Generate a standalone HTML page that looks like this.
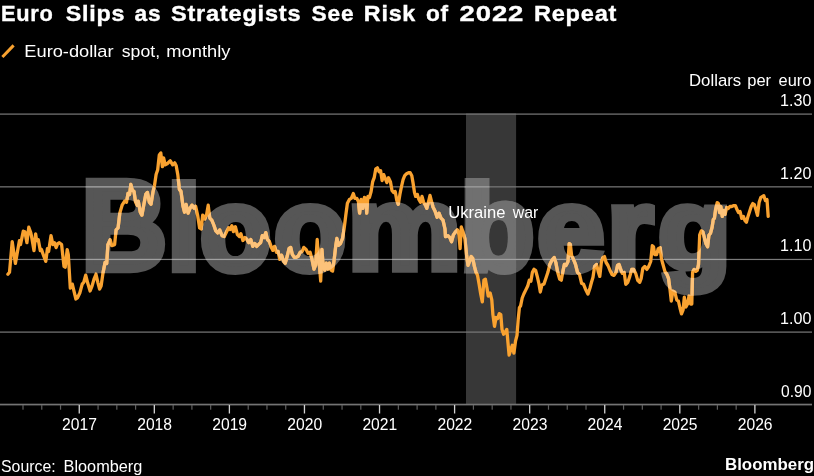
<!DOCTYPE html>
<html><head><meta charset="utf-8">
<style>
html,body{margin:0;padding:0;background:#000;}
body{width:814px;height:476px;overflow:hidden;}
svg{display:block;font-family:"Liberation Sans",sans-serif;will-change:transform;}
</style></head><body>
<svg width="814" height="476" viewBox="0 0 814 476">
<defs>
<clipPath id="bandclip"><rect x="466" y="113.4" width="50.1" height="291"/></clipPath>
<mask id="wmmask" maskUnits="userSpaceOnUse" x="0" y="0" width="814" height="476"><g font-size="120" font-weight="bold" stroke-width="8" stroke-linejoin="miter" fill="#fff" stroke="#fff">
<text transform="translate(81.78,268.70) scale(0.9793,1.0505)">B</text>
<text transform="translate(167.46,268.92) scale(0.9840,0.9958)">l</text>
<text transform="translate(200.30,270.31) scale(0.9644,0.9770)">o</text>
<text transform="translate(274.20,270.31) scale(0.9781,0.9770)">o</text>
<text transform="translate(347.82,269.03) scale(1.0604,0.9671)">m</text>
<text transform="translate(460.37,270.15) scale(1.0086,1.0093)">b</text>
<text transform="translate(537.40,270.31) scale(1.0000,0.9770)">e</text>
<text transform="translate(607.38,269.04) scale(0.9717,0.9644)">r</text>
<text transform="translate(658.20,267.58) scale(0.9886,0.9374)">g</text>
</g></mask>
</defs>
<rect x="466" y="113.4" width="50.1" height="291" fill="#373737"/>
<g font-size="120" font-weight="bold" stroke-width="8" stroke-linejoin="miter" fill="#565656" stroke="#565656">
<text transform="translate(81.78,268.70) scale(0.9793,1.0505)">B</text>
<text transform="translate(167.46,268.92) scale(0.9840,0.9958)">l</text>
<text transform="translate(200.30,270.31) scale(0.9644,0.9770)">o</text>
<text transform="translate(274.20,270.31) scale(0.9781,0.9770)">o</text>
<text transform="translate(347.82,269.03) scale(1.0604,0.9671)">m</text>
<text transform="translate(460.37,270.15) scale(1.0086,1.0093)">b</text>
<text transform="translate(537.40,270.31) scale(1.0000,0.9770)">e</text>
<text transform="translate(607.38,269.04) scale(0.9717,0.9644)">r</text>
<text transform="translate(658.20,267.58) scale(0.9886,0.9374)">g</text>
</g>
<g font-size="120" font-weight="bold" stroke-width="8" stroke-linejoin="miter" fill="#707070" stroke="#707070" clip-path="url(#bandclip)">
<text transform="translate(81.78,268.70) scale(0.9793,1.0505)">B</text>
<text transform="translate(167.46,268.92) scale(0.9840,0.9958)">l</text>
<text transform="translate(200.30,270.31) scale(0.9644,0.9770)">o</text>
<text transform="translate(274.20,270.31) scale(0.9781,0.9770)">o</text>
<text transform="translate(347.82,269.03) scale(1.0604,0.9671)">m</text>
<text transform="translate(460.37,270.15) scale(1.0086,1.0093)">b</text>
<text transform="translate(537.40,270.31) scale(1.0000,0.9770)">e</text>
<text transform="translate(607.38,269.04) scale(0.9717,0.9644)">r</text>
<text transform="translate(658.20,267.58) scale(0.9886,0.9374)">g</text>
</g>
<rect x="0" y="113.50" width="812" height="1.2" fill="#7a7a7a"/>
<rect x="0" y="186.25" width="812" height="1.2" fill="#7a7a7a"/>
<rect x="0" y="258.85" width="812" height="1.2" fill="#7a7a7a"/>
<rect x="0" y="331.50" width="812" height="1.2" fill="#7a7a7a"/>
<g fill="#747474">
<rect x="0" y="403.7" width="812" height="1.7"/>
<rect x="22.40" y="405" width="1.2" height="4.7" fill="#5e5e5e"/>
<rect x="41.16" y="405" width="1.2" height="4.7" fill="#5e5e5e"/>
<rect x="59.93" y="405" width="1.2" height="4.7" fill="#5e5e5e"/>
<rect x="78.60" y="405" width="1.3" height="8.5" fill="#d4d4d4"/>
<rect x="97.47" y="405" width="1.2" height="4.7" fill="#5e5e5e"/>
<rect x="116.23" y="405" width="1.2" height="4.7" fill="#5e5e5e"/>
<rect x="135.00" y="405" width="1.2" height="4.7" fill="#5e5e5e"/>
<rect x="153.67" y="405" width="1.3" height="8.5" fill="#d4d4d4"/>
<rect x="172.54" y="405" width="1.2" height="4.7" fill="#5e5e5e"/>
<rect x="191.30" y="405" width="1.2" height="4.7" fill="#5e5e5e"/>
<rect x="210.07" y="405" width="1.2" height="4.7" fill="#5e5e5e"/>
<rect x="228.74" y="405" width="1.3" height="8.5" fill="#d4d4d4"/>
<rect x="247.61" y="405" width="1.2" height="4.7" fill="#5e5e5e"/>
<rect x="266.37" y="405" width="1.2" height="4.7" fill="#5e5e5e"/>
<rect x="285.14" y="405" width="1.2" height="4.7" fill="#5e5e5e"/>
<rect x="303.81" y="405" width="1.3" height="8.5" fill="#d4d4d4"/>
<rect x="322.68" y="405" width="1.2" height="4.7" fill="#5e5e5e"/>
<rect x="341.44" y="405" width="1.2" height="4.7" fill="#5e5e5e"/>
<rect x="360.21" y="405" width="1.2" height="4.7" fill="#5e5e5e"/>
<rect x="378.88" y="405" width="1.3" height="8.5" fill="#d4d4d4"/>
<rect x="397.75" y="405" width="1.2" height="4.7" fill="#5e5e5e"/>
<rect x="416.51" y="405" width="1.2" height="4.7" fill="#5e5e5e"/>
<rect x="435.28" y="405" width="1.2" height="4.7" fill="#5e5e5e"/>
<rect x="453.95" y="405" width="1.3" height="8.5" fill="#d4d4d4"/>
<rect x="472.82" y="405" width="1.2" height="4.7" fill="#5e5e5e"/>
<rect x="491.58" y="405" width="1.2" height="4.7" fill="#5e5e5e"/>
<rect x="510.35" y="405" width="1.2" height="4.7" fill="#5e5e5e"/>
<rect x="529.02" y="405" width="1.3" height="8.5" fill="#d4d4d4"/>
<rect x="547.89" y="405" width="1.2" height="4.7" fill="#5e5e5e"/>
<rect x="566.65" y="405" width="1.2" height="4.7" fill="#5e5e5e"/>
<rect x="585.42" y="405" width="1.2" height="4.7" fill="#5e5e5e"/>
<rect x="604.09" y="405" width="1.3" height="8.5" fill="#d4d4d4"/>
<rect x="622.96" y="405" width="1.2" height="4.7" fill="#5e5e5e"/>
<rect x="641.72" y="405" width="1.2" height="4.7" fill="#5e5e5e"/>
<rect x="660.49" y="405" width="1.2" height="4.7" fill="#5e5e5e"/>
<rect x="679.16" y="405" width="1.3" height="8.5" fill="#d4d4d4"/>
<rect x="698.03" y="405" width="1.2" height="4.7" fill="#5e5e5e"/>
<rect x="716.80" y="405" width="1.2" height="4.7" fill="#5e5e5e"/>
<rect x="735.56" y="405" width="1.2" height="4.7" fill="#5e5e5e"/>
<rect x="754.23" y="405" width="1.3" height="8.5" fill="#d4d4d4"/>
</g>
<polyline fill="none" stroke="#f9a230" stroke-width="3.3" stroke-linejoin="round" stroke-linecap="round" points="7.9,274.3 9.5,272.3 12.2,241.7 15.4,263.4 19.4,240.7 20.5,244.6 23.3,231.2 24.9,231.8 26.9,242.7 28.8,227.2 30.8,232.8 31.6,236.7 34.0,250.6 35.6,233.8 36.7,240.7 38.3,239.7 40.3,250.6 41.5,249.6 43.9,256.5 45.8,261.4 47.4,248.6 48.6,251.5 51.0,235.7 52.9,244.6 54.5,242.7 56.1,247.6 57.7,243.6 59.3,242.7 61.6,244.6 64.0,266.4 65.2,267.3 67.2,249.6 68.3,254.5 70.3,288.1 72.3,284.1 73.5,289.1 75.9,299.0 77.4,298.0 79.8,293.0 82.2,284.1 83.8,282.2 85.7,275.2 87.7,283.1 90.1,291.0 92.0,286.1 94.0,279.2 96.0,274.3 98.0,283.1 99.6,289.1 101.1,286.1 103.1,272.3 105.1,262.4 106.7,263.4 107.9,244.6 110.2,239.7 111.8,245.6 114.6,244.6 116.1,229.8 118.1,227.8 119.8,213.1 122.1,205.2 124.5,201.3 126.5,202.3 128.0,193.4 129.6,194.4 130.8,184.5 132.4,190.4 134.0,191.4 135.6,202.3 137.1,205.2 138.3,201.3 140.3,212.2 141.9,215.1 143.9,204.3 145.8,194.4 147.4,192.4 149.4,202.3 151.0,204.3 152.9,192.4 154.5,185.5 156.1,174.6 157.7,169.7 159.3,154.9 160.8,152.9 162.4,166.7 163.6,157.8 165.2,164.8 167.2,163.8 170.3,160.8 172.7,164.8 174.7,162.8 176.2,165.7 177.8,174.6 179.4,189.4 181.0,191.4 183.0,206.2 184.5,212.2 186.1,204.3 188.1,213.1 190.1,208.2 192.0,205.2 194.0,208.2 195.6,206.2 197.6,215.1 199.6,228.0 201.1,229.0 202.7,215.1 204.7,219.1 206.7,214.1 208.2,205.2 209.8,218.1 211.8,220.1 213.8,225.0 215.8,230.9 217.7,232.9 219.7,229.9 221.7,234.9 222.0,235.6 224.3,236.5 226.7,231.6 228.7,227.7 230.3,229.6 231.9,225.7 233.4,231.6 235.4,226.7 237.4,234.6 239.4,236.5 240.9,233.6 242.9,240.5 244.9,237.5 246.9,239.5 248.8,242.5 250.8,239.5 252.8,246.4 254.8,243.5 256.7,246.4 258.7,244.4 260.7,242.5 262.3,235.6 264.2,237.5 265.8,232.6 267.4,239.5 269.4,241.5 271.4,247.4 272.9,250.4 274.5,246.4 276.5,252.3 278.1,251.4 279.7,259.3 281.6,255.3 283.6,261.2 285.2,263.2 287.2,256.3 289.1,248.4 290.7,247.4 292.3,254.3 294.3,257.3 296.2,257.3 298.2,256.3 300.2,252.3 302.2,251.4 303.8,247.4 306.1,249.4 308.1,253.3 310.1,252.3 312.0,259.3 314.0,269.1 315.6,265.2 317.2,239.5 318.4,257.3 319.6,267.2 320.7,281.0 321.9,249.4 323.1,265.2 324.7,270.1 326.3,263.2 327.9,269.1 329.4,263.2 331.0,270.1 332.6,271.1 334.2,259.3 335.8,245.4 336.9,238.5 338.5,245.4 340.5,243.5 342.5,238.5 344.0,229.6 345.8,215.2 347.4,203.3 349.4,199.4 351.3,198.4 353.3,193.5 354.9,198.4 356.9,198.4 358.4,201.4 359.6,213.2 361.2,199.4 362.8,208.3 364.4,197.4 366.0,199.4 366.7,213.2 367.9,196.4 369.5,197.4 371.1,191.5 372.7,181.6 374.2,177.7 375.8,168.8 377.4,167.8 379.0,171.7 380.6,170.7 382.1,180.6 383.7,174.7 385.3,178.6 386.9,182.6 388.5,177.7 390.4,181.6 392.0,190.5 393.6,192.5 395.2,191.5 396.8,200.4 398.3,204.3 399.9,194.4 401.5,186.5 403.1,179.6 404.7,175.7 406.6,173.7 408.6,172.7 410.2,172.7 411.8,175.7 413.0,182.6 414.5,192.5 415.7,196.4 417.3,194.4 418.9,199.4 420.5,202.3 422.0,196.4 423.6,202.3 425.6,205.3 426.8,208.3 428.4,202.3 430.0,195.4 431.5,201.4 433.1,207.3 435.1,211.2 437.1,217.2 439.0,213.2 441.0,218.1 443.0,220.1 445.0,229.0 445.5,236.7 447.9,235.7 449.9,237.7 451.5,241.7 453.4,234.8 455.4,231.8 457.4,229.8 459.0,234.8 460.1,248.6 461.3,226.9 462.9,231.8 464.9,238.7 466.5,254.5 468.0,265.4 469.6,261.4 471.2,256.5 472.8,258.5 474.4,266.4 476.0,272.3 477.5,275.2 479.1,284.1 480.7,294.0 482.3,301.9 483.9,280.2 485.4,279.2 487.0,288.1 488.2,296.0 490.2,293.0 491.8,299.9 492.9,314.6 494.5,326.4 496.1,317.5 497.7,318.5 499.3,313.6 500.8,314.6 502.0,329.4 503.6,334.3 505.2,332.3 506.8,329.4 508.0,343.2 509.1,355.1 510.7,350.1 512.3,345.2 513.9,353.1 515.5,341.2 517.0,335.3 518.2,319.5 519.4,307.7 520.6,305.9 522.2,298.0 523.8,294.0 525.7,290.1 527.7,286.1 529.3,280.2 530.9,281.2 532.4,272.3 534.0,269.3 535.6,270.3 537.2,276.2 538.8,283.1 540.3,292.0 541.9,285.1 543.9,284.1 545.9,278.2 547.9,272.3 549.8,264.4 551.8,260.4 554.2,257.5 555.8,262.4 557.7,272.3 559.7,279.2 561.3,280.2 562.9,271.3 564.4,264.4 566.0,265.4 568.0,261.4 569.2,243.6 570.4,244.6 571.6,255.5 573.5,259.4 575.5,264.4 577.5,272.3 579.5,274.3 581.6,283.3 583.6,284.3 585.5,289.2 587.9,294.1 589.9,288.2 591.5,282.3 593.0,277.3 594.6,266.5 596.6,264.5 598.2,271.4 599.8,276.4 601.3,262.5 602.9,257.6 604.5,256.6 606.1,262.5 608.0,265.5 610.0,270.4 612.0,274.4 614.0,275.4 616.0,272.4 617.5,265.5 619.1,264.5 620.7,269.4 622.3,273.4 624.2,272.4 625.8,284.3 627.8,282.3 629.8,276.4 631.8,269.4 633.7,269.4 635.7,273.4 637.7,280.3 639.7,282.3 641.2,278.3 642.8,268.5 644.8,266.5 646.8,269.4 648.7,266.5 650.7,261.5 652.3,245.7 653.5,246.7 654.7,254.6 656.6,254.6 658.2,248.7 660.2,247.7 661.4,258.6 663.0,264.5 664.9,271.4 666.9,274.4 668.5,278.3 670.1,290.2 671.3,301.0 672.8,291.2 674.8,292.2 676.8,300.1 678.4,301.0 680.0,308.0 681.5,313.9 683.1,309.9 684.3,297.1 685.9,307.0 687.5,304.0 689.0,296.1 690.6,304.0 691.8,304.0 692.6,272.4 694.2,269.4 695.8,271.4 697.3,270.4 698.5,264.5 699.7,234.9 701.3,230.9 702.9,231.9 704.4,237.8 706.0,243.8 707.6,246.7 708.9,235.2 710.5,233.2 712.1,227.3 713.3,219.4 714.4,218.4 715.6,209.5 717.2,202.6 718.4,203.6 719.6,212.5 720.8,206.5 722.3,216.4 723.5,210.5 725.1,214.4 726.7,207.5 728.3,208.5 729.9,206.5 731.8,206.5 733.8,205.6 735.4,205.6 737.0,209.5 738.5,212.5 740.1,211.5 741.7,218.4 743.3,216.4 744.9,220.4 746.4,222.3 748.0,216.4 749.6,211.5 751.2,206.5 752.8,203.6 754.3,204.6 755.9,209.5 757.5,215.4 759.1,202.6 760.7,197.7 762.2,196.7 763.8,195.7 765.4,200.6 767.0,199.6 768.2,216.4"/>
<g mask="url(#wmmask)">
<rect x="0" y="113.50" width="812" height="1.2" fill="#a0a0a0"/>
<rect x="0" y="186.25" width="812" height="1.2" fill="#a0a0a0"/>
<rect x="0" y="258.85" width="812" height="1.2" fill="#a0a0a0"/>
<rect x="0" y="331.50" width="812" height="1.2" fill="#a0a0a0"/>
<polyline fill="none" stroke="#fcc27a" stroke-width="3.3" stroke-linejoin="round" stroke-linecap="round" points="7.9,274.3 9.5,272.3 12.2,241.7 15.4,263.4 19.4,240.7 20.5,244.6 23.3,231.2 24.9,231.8 26.9,242.7 28.8,227.2 30.8,232.8 31.6,236.7 34.0,250.6 35.6,233.8 36.7,240.7 38.3,239.7 40.3,250.6 41.5,249.6 43.9,256.5 45.8,261.4 47.4,248.6 48.6,251.5 51.0,235.7 52.9,244.6 54.5,242.7 56.1,247.6 57.7,243.6 59.3,242.7 61.6,244.6 64.0,266.4 65.2,267.3 67.2,249.6 68.3,254.5 70.3,288.1 72.3,284.1 73.5,289.1 75.9,299.0 77.4,298.0 79.8,293.0 82.2,284.1 83.8,282.2 85.7,275.2 87.7,283.1 90.1,291.0 92.0,286.1 94.0,279.2 96.0,274.3 98.0,283.1 99.6,289.1 101.1,286.1 103.1,272.3 105.1,262.4 106.7,263.4 107.9,244.6 110.2,239.7 111.8,245.6 114.6,244.6 116.1,229.8 118.1,227.8 119.8,213.1 122.1,205.2 124.5,201.3 126.5,202.3 128.0,193.4 129.6,194.4 130.8,184.5 132.4,190.4 134.0,191.4 135.6,202.3 137.1,205.2 138.3,201.3 140.3,212.2 141.9,215.1 143.9,204.3 145.8,194.4 147.4,192.4 149.4,202.3 151.0,204.3 152.9,192.4 154.5,185.5 156.1,174.6 157.7,169.7 159.3,154.9 160.8,152.9 162.4,166.7 163.6,157.8 165.2,164.8 167.2,163.8 170.3,160.8 172.7,164.8 174.7,162.8 176.2,165.7 177.8,174.6 179.4,189.4 181.0,191.4 183.0,206.2 184.5,212.2 186.1,204.3 188.1,213.1 190.1,208.2 192.0,205.2 194.0,208.2 195.6,206.2 197.6,215.1 199.6,228.0 201.1,229.0 202.7,215.1 204.7,219.1 206.7,214.1 208.2,205.2 209.8,218.1 211.8,220.1 213.8,225.0 215.8,230.9 217.7,232.9 219.7,229.9 221.7,234.9 222.0,235.6 224.3,236.5 226.7,231.6 228.7,227.7 230.3,229.6 231.9,225.7 233.4,231.6 235.4,226.7 237.4,234.6 239.4,236.5 240.9,233.6 242.9,240.5 244.9,237.5 246.9,239.5 248.8,242.5 250.8,239.5 252.8,246.4 254.8,243.5 256.7,246.4 258.7,244.4 260.7,242.5 262.3,235.6 264.2,237.5 265.8,232.6 267.4,239.5 269.4,241.5 271.4,247.4 272.9,250.4 274.5,246.4 276.5,252.3 278.1,251.4 279.7,259.3 281.6,255.3 283.6,261.2 285.2,263.2 287.2,256.3 289.1,248.4 290.7,247.4 292.3,254.3 294.3,257.3 296.2,257.3 298.2,256.3 300.2,252.3 302.2,251.4 303.8,247.4 306.1,249.4 308.1,253.3 310.1,252.3 312.0,259.3 314.0,269.1 315.6,265.2 317.2,239.5 318.4,257.3 319.6,267.2 320.7,281.0 321.9,249.4 323.1,265.2 324.7,270.1 326.3,263.2 327.9,269.1 329.4,263.2 331.0,270.1 332.6,271.1 334.2,259.3 335.8,245.4 336.9,238.5 338.5,245.4 340.5,243.5 342.5,238.5 344.0,229.6 345.8,215.2 347.4,203.3 349.4,199.4 351.3,198.4 353.3,193.5 354.9,198.4 356.9,198.4 358.4,201.4 359.6,213.2 361.2,199.4 362.8,208.3 364.4,197.4 366.0,199.4 366.7,213.2 367.9,196.4 369.5,197.4 371.1,191.5 372.7,181.6 374.2,177.7 375.8,168.8 377.4,167.8 379.0,171.7 380.6,170.7 382.1,180.6 383.7,174.7 385.3,178.6 386.9,182.6 388.5,177.7 390.4,181.6 392.0,190.5 393.6,192.5 395.2,191.5 396.8,200.4 398.3,204.3 399.9,194.4 401.5,186.5 403.1,179.6 404.7,175.7 406.6,173.7 408.6,172.7 410.2,172.7 411.8,175.7 413.0,182.6 414.5,192.5 415.7,196.4 417.3,194.4 418.9,199.4 420.5,202.3 422.0,196.4 423.6,202.3 425.6,205.3 426.8,208.3 428.4,202.3 430.0,195.4 431.5,201.4 433.1,207.3 435.1,211.2 437.1,217.2 439.0,213.2 441.0,218.1 443.0,220.1 445.0,229.0 445.5,236.7 447.9,235.7 449.9,237.7 451.5,241.7 453.4,234.8 455.4,231.8 457.4,229.8 459.0,234.8 460.1,248.6 461.3,226.9 462.9,231.8 464.9,238.7 466.5,254.5 468.0,265.4 469.6,261.4 471.2,256.5 472.8,258.5 474.4,266.4 476.0,272.3 477.5,275.2 479.1,284.1 480.7,294.0 482.3,301.9 483.9,280.2 485.4,279.2 487.0,288.1 488.2,296.0 490.2,293.0 491.8,299.9 492.9,314.6 494.5,326.4 496.1,317.5 497.7,318.5 499.3,313.6 500.8,314.6 502.0,329.4 503.6,334.3 505.2,332.3 506.8,329.4 508.0,343.2 509.1,355.1 510.7,350.1 512.3,345.2 513.9,353.1 515.5,341.2 517.0,335.3 518.2,319.5 519.4,307.7 520.6,305.9 522.2,298.0 523.8,294.0 525.7,290.1 527.7,286.1 529.3,280.2 530.9,281.2 532.4,272.3 534.0,269.3 535.6,270.3 537.2,276.2 538.8,283.1 540.3,292.0 541.9,285.1 543.9,284.1 545.9,278.2 547.9,272.3 549.8,264.4 551.8,260.4 554.2,257.5 555.8,262.4 557.7,272.3 559.7,279.2 561.3,280.2 562.9,271.3 564.4,264.4 566.0,265.4 568.0,261.4 569.2,243.6 570.4,244.6 571.6,255.5 573.5,259.4 575.5,264.4 577.5,272.3 579.5,274.3 581.6,283.3 583.6,284.3 585.5,289.2 587.9,294.1 589.9,288.2 591.5,282.3 593.0,277.3 594.6,266.5 596.6,264.5 598.2,271.4 599.8,276.4 601.3,262.5 602.9,257.6 604.5,256.6 606.1,262.5 608.0,265.5 610.0,270.4 612.0,274.4 614.0,275.4 616.0,272.4 617.5,265.5 619.1,264.5 620.7,269.4 622.3,273.4 624.2,272.4 625.8,284.3 627.8,282.3 629.8,276.4 631.8,269.4 633.7,269.4 635.7,273.4 637.7,280.3 639.7,282.3 641.2,278.3 642.8,268.5 644.8,266.5 646.8,269.4 648.7,266.5 650.7,261.5 652.3,245.7 653.5,246.7 654.7,254.6 656.6,254.6 658.2,248.7 660.2,247.7 661.4,258.6 663.0,264.5 664.9,271.4 666.9,274.4 668.5,278.3 670.1,290.2 671.3,301.0 672.8,291.2 674.8,292.2 676.8,300.1 678.4,301.0 680.0,308.0 681.5,313.9 683.1,309.9 684.3,297.1 685.9,307.0 687.5,304.0 689.0,296.1 690.6,304.0 691.8,304.0 692.6,272.4 694.2,269.4 695.8,271.4 697.3,270.4 698.5,264.5 699.7,234.9 701.3,230.9 702.9,231.9 704.4,237.8 706.0,243.8 707.6,246.7 708.9,235.2 710.5,233.2 712.1,227.3 713.3,219.4 714.4,218.4 715.6,209.5 717.2,202.6 718.4,203.6 719.6,212.5 720.8,206.5 722.3,216.4 723.5,210.5 725.1,214.4 726.7,207.5 728.3,208.5 729.9,206.5 731.8,206.5 733.8,205.6 735.4,205.6 737.0,209.5 738.5,212.5 740.1,211.5 741.7,218.4 743.3,216.4 744.9,220.4 746.4,222.3 748.0,216.4 749.6,211.5 751.2,206.5 752.8,203.6 754.3,204.6 755.9,209.5 757.5,215.4 759.1,202.6 760.7,197.7 762.2,196.7 763.8,195.7 765.4,200.6 767.0,199.6 768.2,216.4"/>
</g>
<line x1="2.4" y1="57.0" x2="13.6" y2="45.4" stroke="#f9a230" stroke-width="3.0"/>
<text transform="translate(0.98,21.40) scale(1.0242,1)" font-size="21.3" font-weight="bold" letter-spacing="0.700" fill="#fff" stroke="#fff" stroke-width="0.35">Euro</text>
<text transform="translate(65.80,21.40) scale(1.0937,1)" font-size="21.3" font-weight="bold" letter-spacing="0.700" fill="#fff" stroke="#fff" stroke-width="0.35">Slips</text>
<text transform="translate(134.60,21.40) scale(1.0661,1)" font-size="21.3" font-weight="bold" letter-spacing="0.700" fill="#fff" stroke="#fff" stroke-width="0.35">as</text>
<text transform="translate(171.00,21.40) scale(1.1064,1)" font-size="21.3" font-weight="bold" letter-spacing="0.700" fill="#fff" stroke="#fff" stroke-width="0.35">Strategists</text>
<text transform="translate(311.60,21.40) scale(1.0672,1)" font-size="21.3" font-weight="bold" letter-spacing="0.700" fill="#fff" stroke="#fff" stroke-width="0.35">See</text>
<text transform="translate(363.81,21.40) scale(1.0943,1)" font-size="21.3" font-weight="bold" letter-spacing="0.700" fill="#fff" stroke="#fff" stroke-width="0.35">Risk</text>
<text transform="translate(426.00,21.40) scale(1.0641,1)" font-size="21.3" font-weight="bold" letter-spacing="0.700" fill="#fff" stroke="#fff" stroke-width="0.35">of</text>
<text transform="translate(459.50,21.40) scale(1.2913,1)" font-size="21.3" font-weight="bold" letter-spacing="0.700" fill="#fff" stroke="#fff" stroke-width="0.35">2022</text>
<text transform="translate(533.89,21.40) scale(1.1087,1)" font-size="21.3" font-weight="bold" letter-spacing="0.700" fill="#fff" stroke="#fff" stroke-width="0.35">Repeat</text>
<text transform="translate(24.33,56.70) scale(1.0741,1)" font-size="17.0" font-weight="normal" letter-spacing="0.000" fill="#fff">Euro-dollar</text>
<text transform="translate(121.80,56.70) scale(1.0379,1)" font-size="17.0" font-weight="normal" letter-spacing="0.000" fill="#fff">spot,</text>
<text transform="translate(166.32,56.70) scale(1.0775,1)" font-size="17.0" font-weight="normal" letter-spacing="-0.000" fill="#fff">monthly</text>
<text transform="translate(689.01,85.90) scale(0.9864,1)" font-size="17.0" font-weight="normal" letter-spacing="0.000" fill="#fff">Dollars</text>
<text transform="translate(747.23,85.90) scale(0.9703,1)" font-size="17.0" font-weight="normal" letter-spacing="0.000" fill="#fff">per</text>
<text transform="translate(778.60,85.90) scale(0.9622,1)" font-size="17.0" font-weight="normal" letter-spacing="0.000" fill="#fff">euro</text>
<text transform="translate(780.02,105.50) scale(0.9762,1)" font-size="16.5" font-weight="normal" letter-spacing="0.000" fill="#fff">1.30</text>
<text transform="translate(780.02,178.50) scale(0.9762,1)" font-size="16.5" font-weight="normal" letter-spacing="0.000" fill="#fff">1.20</text>
<text transform="translate(780.02,251.00) scale(0.9762,1)" font-size="16.5" font-weight="normal" letter-spacing="0.000" fill="#fff">1.10</text>
<text transform="translate(780.02,324.00) scale(0.9762,1)" font-size="16.5" font-weight="normal" letter-spacing="0.000" fill="#fff">1.00</text>
<text transform="translate(781.00,396.70) scale(0.9456,1)" font-size="16.5" font-weight="normal" letter-spacing="0.000" fill="#fff">0.90</text>
<text transform="translate(62.10,429.60) scale(0.9499,1)" font-size="16.5" font-weight="normal" letter-spacing="0.000" fill="#fff">2017</text>
<text transform="translate(137.17,429.60) scale(0.9499,1)" font-size="16.5" font-weight="normal" letter-spacing="0.000" fill="#fff">2018</text>
<text transform="translate(212.24,429.60) scale(0.9499,1)" font-size="16.5" font-weight="normal" letter-spacing="0.000" fill="#fff">2019</text>
<text transform="translate(287.31,429.60) scale(0.9499,1)" font-size="16.5" font-weight="normal" letter-spacing="0.000" fill="#fff">2020</text>
<text transform="translate(362.38,429.60) scale(0.9499,1)" font-size="16.5" font-weight="normal" letter-spacing="0.000" fill="#fff">2021</text>
<text transform="translate(437.45,429.60) scale(0.9499,1)" font-size="16.5" font-weight="normal" letter-spacing="0.000" fill="#fff">2022</text>
<text transform="translate(512.52,429.60) scale(0.9499,1)" font-size="16.5" font-weight="normal" letter-spacing="0.000" fill="#fff">2023</text>
<text transform="translate(587.59,429.60) scale(0.9499,1)" font-size="16.5" font-weight="normal" letter-spacing="0.000" fill="#fff">2024</text>
<text transform="translate(662.66,429.60) scale(0.9499,1)" font-size="16.5" font-weight="normal" letter-spacing="0.000" fill="#fff">2025</text>
<text transform="translate(737.73,429.60) scale(0.9499,1)" font-size="16.5" font-weight="normal" letter-spacing="0.000" fill="#fff">2026</text>
<text transform="translate(1.00,471.70) scale(0.9332,1)" font-size="17.0" font-weight="normal" letter-spacing="0.000" fill="#fff">Source:</text>
<text transform="translate(63.54,471.70) scale(0.9584,1)" font-size="17.0" font-weight="normal" letter-spacing="0.000" fill="#fff">Bloomberg</text>
<text transform="translate(448.22,217.50) scale(0.9768,1)" font-size="17.0" font-weight="normal" letter-spacing="0.000" fill="#fff">Ukraine</text>
<text transform="translate(512.73,217.50) scale(0.9328,1)" font-size="17.0" font-weight="normal" letter-spacing="0.000" fill="#fff">war</text>
<text transform="translate(724.98,470.00) scale(1.0235,1)" font-size="16.5" font-weight="bold" letter-spacing="0.000" fill="#fff">Bloomberg</text>
</svg>
</body></html>
